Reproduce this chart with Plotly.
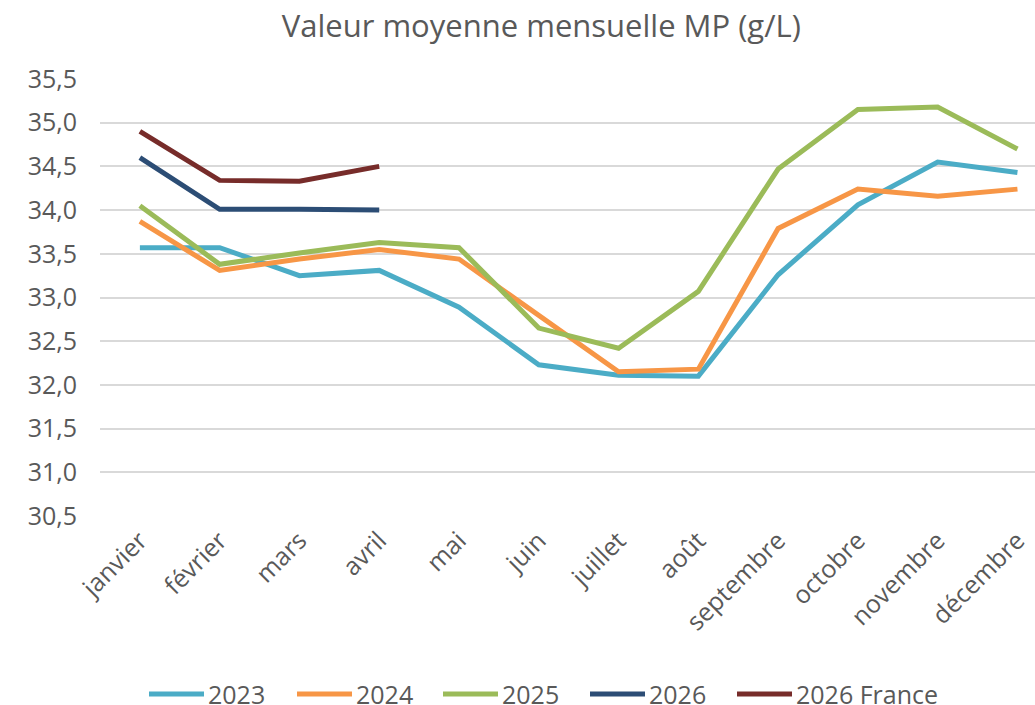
import plotly.graph_objects as go

months = ["janvier", "février", "mars", "avril", "mai", "juin", "juillet",
          "août", "septembre", "octobre", "novembre", "décembre"]

mp_2023 = [33.57, 33.57, 33.25, 33.31, 32.89, 32.23, 32.11, 32.10, 33.26, 34.06, 34.55, 34.43]
mp_2024 = [33.87, 33.31, 33.44, 33.55, 33.44, 32.80, 32.15, 32.18, 33.79, 34.24, 34.16, 34.24]
mp_2025 = [34.05, 33.38, 33.51, 33.63, 33.57, 32.65, 32.42, 33.07, 34.47, 35.15, 35.18, 34.70]
mp_2026 = [34.60, 34.01, 34.01, 34.00]
mp_2026_fr = [34.90, 34.34, 34.33, 34.50]

series = [
    ("2023", mp_2023, "#4BACC6"),
    ("2024", mp_2024, "#F79646"),
    ("2025", mp_2025, "#9BBB59"),
    ("2026", mp_2026, "#2C4D75"),
    ("2026 France", mp_2026_fr, "#772C2A"),
]

y_ticks = [30.5 + 0.5 * i for i in range(11)]
y_labels = [f"{v:.1f}".replace(".", ",") for v in y_ticks]

W, H = 1035, 705
M_L, M_R, M_T, M_B = 100, 0, 79, 189
PLOT_W, PLOT_H = W - M_L - M_R, H - M_T - M_B

fig = go.Figure()
for name, vals, color in series:
    fig.add_trace(go.Scatter(
        x=months[:len(vals)], y=vals, name=name, mode="lines",
        line=dict(color=color, width=5), showlegend=False,
    ))

# Bottom legend: long line swatch followed by the series name
legend_left = [149, 297, 443, 590, 737]   # pixel x of each swatch start
legend_y_px = 694
swatch_len = 55


def px_x(px):
    return (px - M_L) / PLOT_W


def px_y(py):
    return (H - M_B - py) / PLOT_H


for (name, _, color), x0 in zip(series, legend_left):
    fig.add_shape(type="line", xref="paper", yref="paper",
                  x0=px_x(x0), x1=px_x(x0 + swatch_len),
                  y0=px_y(legend_y_px), y1=px_y(legend_y_px),
                  line=dict(color=color, width=5))
    fig.add_annotation(text=name, xref="paper", yref="paper",
                       x=px_x(x0 + swatch_len + 2), y=px_y(legend_y_px),
                       xanchor="left", yanchor="middle", showarrow=False,
                       font=dict(size=25, color="#595959"))

font_family = "Open Sans, sans-serif"
fig.update_layout(
    width=W, height=H,
    margin=dict(l=M_L, r=M_R, t=M_T, b=M_B),
    paper_bgcolor="white", plot_bgcolor="white",
    font=dict(family=font_family, color="#595959", size=25),
    title=dict(text="Valeur moyenne mensuelle MP (g/L)", x=0.523, xanchor="center",
               y=0.963, yanchor="middle", font=dict(size=31, color="#595959")),
    xaxis=dict(type="category", categoryorder="array", categoryarray=months,
               range=[-0.5, 11.22], tickangle=-45, showgrid=False, zeroline=False,
               showline=False, ticks="", ticklabelstandoff=4,
               tickfont=dict(size=25, color="#595959")),
    yaxis=dict(range=[30.5, 35.5], tickvals=y_ticks, ticktext=y_labels,
               showgrid=True, gridcolor="#D9D9D9", gridwidth=1.5, zeroline=False,
               showline=False, ticks="", ticklabelstandoff=22,
               tickfont=dict(size=25, color="#595959")),
    showlegend=False,
)

fig.write_html("out.html")
